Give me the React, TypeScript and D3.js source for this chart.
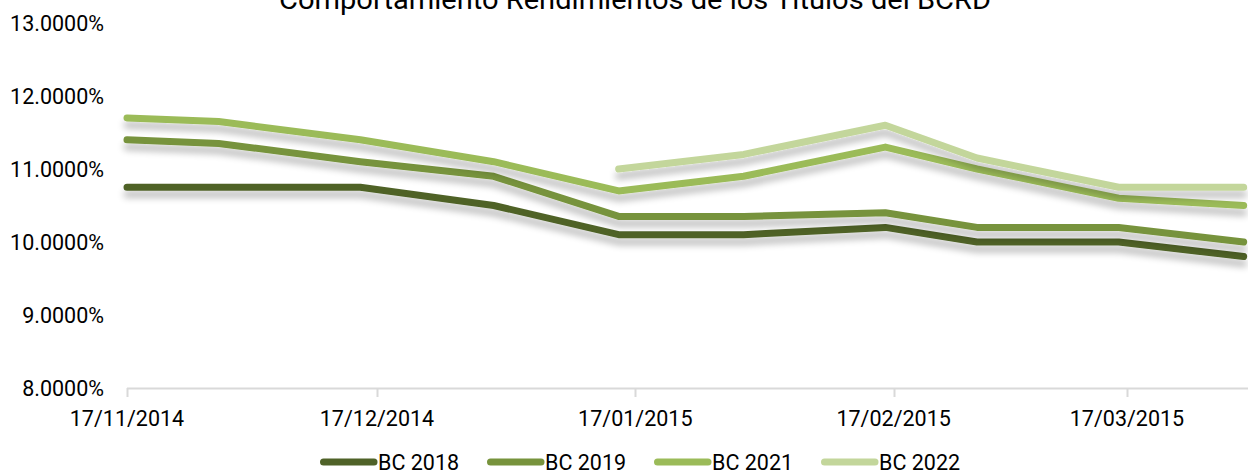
import React from "react";
import * as d3 from "d3";

const TITLE = "Comportamiento Rendimientos de los Títulos del BCRD";
const dates = ["2014-11-17", "2014-11-28", "2014-12-15", "2014-12-31", "2015-01-15", "2015-01-30", "2015-02-16", "2015-02-27", "2015-03-16", "2015-03-31"];
const seriesNames = ["BC 2018", "BC 2019", "BC 2021", "BC 2022"];
const bc2018 = [10.75, 10.75, 10.75, 10.5, 10.1, 10.1, 10.2, 10.0, 10.0, 9.8];
const bc2019 = [11.4, 11.35, 11.1, 10.9, 10.35, 10.35, 10.4, 10.2, 10.2, 10.0];
const bc2021 = [11.7, 11.65, 11.4, 11.1, 10.7, 10.9, 11.3, 11.0, 10.6, 10.5];
const bc2022 = [null, null, null, null, 11.0, 11.2, 11.6, 11.15, 10.75, 10.75];
const colors = ["#4f6228", "#77933c", "#9bbb59", "#c3d69b"];
const yTicks = [8, 9, 10, 11, 12, 13];
const xTickDates = ["2014-11-17", "2014-12-17", "2015-01-17", "2015-02-17", "2015-03-17"];

const W = 1248;
const H = 472;
const FONT = "Roboto, 'Open Sans', sans-serif";

export default function App() {
  const parse = d3.utcParse("%Y-%m-%d");
  const fmt = d3.utcFormat("%d/%m/%Y");
  const x = d3.scaleUtc().domain([parse("2014-11-17")!, parse("2015-03-17")!]).range([127, 1127]);
  const y = d3.scaleLinear().domain([8, 13]).range([388, 23]);
  const all = [bc2018, bc2019, bc2021, bc2022];
  const line = d3
    .line<[Date, number | null]>()
    .defined((d) => d[1] != null)
    .x((d) => x(d[0]))
    .y((d) => y(d[1] as number));

  const legendX0 = 320;
  const legendStep = 167;
  const legendY = 462;

  return (
    <svg width={W} height={H} style={{ position: "absolute", left: 0, top: 0, background: "#fff" }}>
      <defs>
        <filter id="shadow" x="-5%" y="-30%" width="110%" height="200%">
          <feGaussianBlur in="SourceAlpha" stdDeviation="3.5" />
          <feOffset dx="0" dy="7" result="off" />
          <feComponentTransfer>
            <feFuncA type="linear" slope="0.26" />
          </feComponentTransfer>
          <feMerge>
            <feMergeNode />
            <feMergeNode in="SourceGraphic" />
          </feMerge>
        </filter>
      </defs>
      <rect x={0} y={0} width={W} height={H} fill="#fff" />
      <text x={635} y={9} textAnchor="middle" fontFamily={FONT} fontSize={27} fill="#000" textLength={712} lengthAdjust="spacingAndGlyphs">
        {TITLE}
      </text>
      {yTicks.map((t) => (
        <text key={t} x={104} y={y(t)} textAnchor="end" dominantBaseline="central" fontFamily={FONT} fontSize={21.5} fill="#000">
          {t.toFixed(4) + "%"}
        </text>
      ))}
      <line x1={127} x2={W} y1={388.5} y2={388.5} stroke="#d9d9d9" strokeWidth={2} />
      {xTickDates.map((s) => {
        const d = parse(s)!;
        const xx = Math.round(x(d)) + 0.5;
        return (
          <g key={s}>
            <line x1={xx} x2={xx} y1={388} y2={397} stroke="#d9d9d9" strokeWidth={2} />
            <text x={x(d)} y={418} textAnchor="middle" dominantBaseline="central" fontFamily={FONT} fontSize={21.5} fill="#000">
              {fmt(d)}
            </text>
          </g>
        );
      })}
      {all.map((vals, i) => {
        const pts: [Date, number | null][] = dates.map((s, j) => [parse(s)!, vals[j]]);
        return (
          <path
            key={seriesNames[i]}
            d={line(pts) || ""}
            fill="none"
            stroke={colors[i]}
            strokeWidth={7}
            strokeLinecap="round"
            strokeLinejoin="round"
            filter="url(#shadow)"
          />
        );
      })}
      {seriesNames.map((n, i) => {
        const lx = legendX0 + i * legendStep;
        return (
          <g key={n}>
            <line x1={lx + 3.5} x2={lx + 54} y1={legendY} y2={legendY} stroke={colors[i]} strokeWidth={7} strokeLinecap="round" />
            <text x={lx + 58} y={legendY} dominantBaseline="central" fontFamily={FONT} fontSize={21.5} fill="#000">
              {n}
            </text>
          </g>
        );
      })}
    </svg>
  );
}
